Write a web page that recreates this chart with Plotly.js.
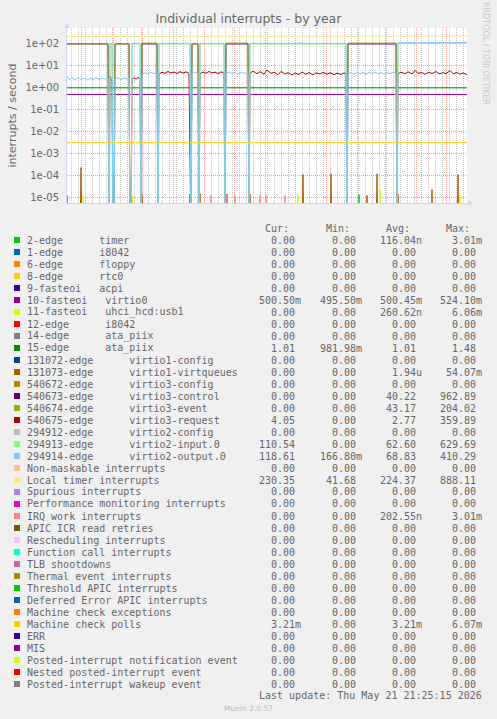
<!DOCTYPE html>
<html><head><meta charset="utf-8">
<script src="https://cdn.plot.ly/plotly-3.0.1.min.js"></script>
<style>html,body{margin:0;padding:0;background:#F0F0F0;}#chart{width:497px;height:719px;}</style>
</head><body><div id="chart"></div>
<script>
// ---------------- DATA ----------------
const xRange = ['2025-04-17', '2026-05-22'];
const xLabelDates = ['2025-07-16', '2025-10-16', '2026-01-15', '2026-04-16'];
const xLabelText = ['July 2025', 'October 2025', 'January 2026', 'April 2026'];
const yTickVals = [1e-5, 1e-4, 1e-3, 1e-2, 1e-1, 1, 10, 100];
const yTickText = ['1e-05', '1e-04', '1e-03', '1e-02', '1e-01', '1e+00', '1e+01', '1e+02'];

// 2-edge timer (spikes)
const timerPts = [['2025-04-16',0],['2025-04-17',1.3e-5],['2025-04-18',0],
  ['2025-05-28',0],['2025-05-29',1.3e-5],['2025-05-30',0],
  ['2026-02-02',0],['2026-02-03',1.4e-5],['2026-02-04',0]];
// 10-fasteoi virtio0
const virtio0Pts = [['2025-04-17',0.5005],['2026-05-22',0.5005]];
// 11-fasteoi uhci_hcd:usb1 (spikes)
const usb1Pts = [['2025-05-02',0],['2025-05-03',1.2e-5],['2025-05-04',0],
  ['2025-06-20',0],['2025-06-21',1.3e-5],['2025-06-22',0],
  ['2025-12-03',0],['2025-12-04',1.4e-5],['2025-12-05',0],
  ['2026-02-23',0],['2026-02-24',2.4e-5],['2026-02-25',0],
  ['2026-05-14',0],['2026-05-15',1.3e-5],['2026-05-16',0]];
// 15-edge ata_piix
const ata15Pts = [['2025-04-17',1.01],['2026-05-22',1.01]];
// 131073-edge virtio1-virtqueues (spikes)
const vq1Pts = [['2025-04-30',0],['2025-05-01',2.4e-4],['2025-05-02',0],
  ['2025-05-28',0],['2025-05-29',1.5e-5],['2025-05-30',0],
  ['2025-06-30',0],['2025-07-01',1.5e-5],['2025-07-02',0],
  ['2025-07-16',0],['2025-07-17',1.6e-5],['2025-07-18',0],
  ['2025-08-17',0],['2025-08-18',1.5e-5],['2025-08-19',0],
  ['2025-08-27',0],['2025-08-28',1.6e-5],['2025-08-29',0],
  ['2025-09-23',0],['2025-09-24',1.5e-5],['2025-09-25',0],
  ['2025-10-16',0],['2025-10-17',1.5e-5],['2025-10-18',0],
  ['2025-12-08',0],['2025-12-09',1.15e-4],['2025-12-10',0],
  ['2026-01-05',0],['2026-01-06',1.25e-4],['2026-01-07',0],
  ['2026-02-10',0],['2026-02-11',1.3e-5],['2026-02-12',0],
  ['2026-02-20',0],['2026-02-21',1.25e-4],['2026-02-22',0],
  ['2026-03-13',0],['2026-03-14',1.5e-5],['2026-03-15',0],
  ['2026-04-16',0],['2026-04-17',2.4e-5],['2026-04-18',0],
  ['2026-05-12',0],['2026-05-13',1.15e-4],['2026-05-14',0]];
// 540673-edge virtio3-control
const ctrlPts = [['2025-04-17',100],['2025-05-28',100],['2025-05-29',0],['2025-06-03',0],
  ['2025-06-04',100],['2025-06-18',100],['2025-06-19',0],['2025-06-30',0],
  ['2025-07-01',100],['2025-07-16',100],['2025-07-17',0],['2025-08-19',0],
  ['2025-08-20',100],['2025-08-26',100],['2025-08-27',0],['2025-09-22',0],
  ['2025-09-23',100],['2025-10-15',100],['2025-10-16',0],['2026-01-22',0],
  ['2026-01-23',100],['2026-03-12',100],['2026-03-13',0],['2026-05-22',0]];
// 540674-edge virtio3-event
const eventPts = [['2025-04-17',101],['2025-05-28',101],['2025-05-29',0],['2025-06-03',0],
  ['2025-06-04',101],['2025-06-18',101],['2025-06-19',0],['2025-06-30',0],
  ['2025-07-01',110],['2025-07-16',110],['2025-07-17',0],['2025-08-19',0],
  ['2025-08-20',101],['2025-08-26',101],['2025-08-27',0],['2025-09-22',0],
  ['2025-09-23',110],['2025-10-15',110],['2025-10-16',0],['2026-01-22',0],
  ['2026-01-23',110],['2026-03-12',110],['2026-03-13',0],['2026-05-22',0]];
// 540675-edge virtio3-request
const reqPts = [['2025-04-17',0],['2025-05-29',0],['2025-05-30',3.4],['2025-06-01',2.0],['2025-06-02',0],
  ['2025-06-20',0],['2025-06-21',2.4],['2025-06-23',2.9],['2025-06-25',2.5],['2025-06-27',3.0],['2025-06-29',2.6],['2025-06-30',0],
  ['2025-07-17',0],['2025-07-18',4.2],['2025-07-21',5.2],['2025-07-24',4.6],['2025-07-27',5.6],['2025-07-30',4.8],['2025-08-02',5.3],
  ['2025-08-05',4.5],['2025-08-08',5.5],['2025-08-11',4.7],['2025-08-14',5.4],['2025-08-17',4.6],['2025-08-19',0],
  ['2025-08-27',0],['2025-08-28',4.4],['2025-08-31',5.3],['2025-09-03',4.6],['2025-09-06',5.6],['2025-09-09',4.8],['2025-09-12',5.2],
  ['2025-09-15',4.5],['2025-09-18',5.4],['2025-09-21',4.8],['2025-09-22',0],
  ['2025-10-16',0],['2025-10-17',4.5],['2025-10-20',5.8],['2025-10-24',4.4],['2025-10-27',5.5],['2025-10-31',4.2],['2025-11-03',6.5],
  ['2025-11-07',4.6],['2025-11-10',5.2],['2025-11-14',4.0],['2025-11-17',5.6],['2025-11-21',4.3],['2025-11-24',5.0],['2025-11-28',3.9],
  ['2025-12-01',4.8],['2025-12-05',4.1],['2025-12-08',5.3],['2025-12-12',4.2],['2025-12-15',5.0],['2025-12-19',4.0],['2025-12-22',4.8],
  ['2025-12-26',4.3],['2025-12-29',5.1],['2026-01-02',4.2],['2026-01-05',4.9],['2026-01-09',4.0],['2026-01-12',4.7],['2026-01-16',4.1],
  ['2026-01-19',4.8],['2026-01-21',4.3],['2026-01-22',0],
  ['2026-03-13',0],['2026-03-14',4.5],['2026-03-17',5.2],['2026-03-21',4.4],['2026-03-24',5.4],['2026-03-28',4.3],['2026-03-31',6.3],
  ['2026-04-03',4.6],['2026-04-07',5.0],['2026-04-10',4.2],['2026-04-14',5.2],['2026-04-17',4.5],['2026-04-21',5.6],['2026-04-24',4.3],
  ['2026-04-28',5.0],['2026-05-01',4.4],['2026-05-05',6.2],['2026-05-08',4.5],['2026-05-12',5.0],['2026-05-15',4.2],['2026-05-18',4.8],
  ['2026-05-22',4.05]];
// 294913-edge virtio2-input.0
const inputPts = [['2025-04-17',0],['2025-05-29',0],['2025-05-30',100],['2025-06-01',99],['2025-06-02',0],
  ['2025-06-20',0],['2025-06-21',100],['2025-06-29',100],['2025-06-30',0],['2025-07-17',0],
  ['2025-07-18',100],['2025-08-18',100],['2025-08-19',0],['2025-08-27',0],['2025-08-28',100],
  ['2025-09-21',100],['2025-09-22',0],['2025-10-16',0],['2025-10-17',100],['2026-01-21',100],
  ['2026-01-22',0],['2026-03-13',0],['2026-03-14',106],['2026-04-01',108],['2026-04-20',107],
  ['2026-05-10',109],['2026-05-19',118],['2026-05-22',110.5]];
// 294914-edge virtio2-output.0
const outputPts = [['2025-04-17',3.6],['2025-04-19',2.4],['2025-04-22',2.8],['2025-04-25',2.3],['2025-04-28',2.9],
  ['2025-05-01',2.4],['2025-05-04',2.8],['2025-05-07',2.3],['2025-05-10',2.7],['2025-05-13',2.4],['2025-05-16',2.9],
  ['2025-05-19',2.4],['2025-05-22',2.8],['2025-05-25',2.5],['2025-05-28',2.8],['2025-05-29',0],
  ['2025-05-30',105],['2025-06-01',104],['2025-06-02',0],['2025-06-03',0],
  ['2025-06-04',2.6],['2025-06-07',2.9],['2025-06-10',2.4],['2025-06-13',2.8],['2025-06-16',2.5],['2025-06-18',2.9],
  ['2025-06-19',0],['2025-06-20',0],['2025-06-21',106],['2025-06-29',106],['2025-06-30',0],
  ['2025-07-01',4.3],['2025-07-04',4.9],['2025-07-07',4.3],['2025-07-10',5.1],['2025-07-13',4.4],['2025-07-16',4.9],
  ['2025-07-17',0],['2025-07-18',106],['2025-08-18',106],['2025-08-19',0],
  ['2025-08-20',4.6],['2025-08-23',5.2],['2025-08-26',4.5],['2025-08-27',0],
  ['2025-08-28',106],['2025-09-21',106],['2025-09-22',0],
  ['2025-09-23',4.6],['2025-09-26',5.3],['2025-09-29',4.5],['2025-10-02',5.1],['2025-10-05',4.4],['2025-10-08',5.2],
  ['2025-10-11',4.6],['2025-10-15',5.0],['2025-10-16',0],
  ['2025-10-17',106],['2025-12-04',106],['2025-12-06',114],['2025-12-08',106],['2026-01-21',106],['2026-01-22',0],
  ['2026-01-23',4.2],['2026-01-26',5.0],['2026-01-29',4.2],['2026-02-01',5.3],['2026-02-04',4.4],['2026-02-07',5.1],
  ['2026-02-10',4.3],['2026-02-13',5.0],['2026-02-16',4.5],['2026-02-19',5.2],['2026-02-22',4.4],['2026-02-25',5.1],
  ['2026-02-28',4.3],['2026-03-03',5.0],['2026-03-06',4.4],['2026-03-09',5.2],['2026-03-12',4.6],['2026-03-13',0],
  ['2026-03-14',112],['2026-03-17',118],['2026-03-20',112],['2026-03-24',119],['2026-03-27',113],['2026-03-31',118],
  ['2026-04-03',112],['2026-04-07',117],['2026-04-10',112],['2026-04-14',118],['2026-04-17',113],['2026-04-21',119],
  ['2026-04-24',112],['2026-04-28',118],['2026-05-01',113],['2026-05-05',117],['2026-05-08',112],['2026-05-12',118],
  ['2026-05-15',113],['2026-05-19',117],['2026-05-22',118.6]];
// Local timer interrupts
const locPts = [['2025-04-17',220],['2025-06-01',222],['2025-08-01',226],['2025-10-01',224],
  ['2025-12-01',223],['2026-02-01',225],['2026-04-01',227],['2026-05-22',230.35]];
// IRQ work interrupts (spikes)
const irqWorkPts = [['2025-09-07',0],['2025-09-08',1.3e-5],['2025-09-09',0],
  ['2025-09-23',0],['2025-09-24',1.3e-5],['2025-09-25',0],
  ['2025-10-01',0],['2025-10-02',1.3e-5],['2025-10-03',0],
  ['2025-10-26',0],['2025-10-27',1.3e-5],['2025-10-28',0],
  ['2025-11-01',0],['2025-11-02',1.3e-5],['2025-11-03',0],
  ['2025-11-20',0],['2025-11-21',1.3e-5],['2025-11-22',0]];
// Machine check polls
const mcPollPts = [['2025-04-17',0.00321],['2026-05-22',0.00321]];

// Legend table
const legLabels = ['2-edge      timer','1-edge      i8042','6-edge      floppy','8-edge      rtc0','9-fasteoi   acpi',
  '10-fasteoi   virtio0','11-fasteoi   uhci_hcd:usb1','12-edge      i8042','14-edge      ata_piix','15-edge      ata_piix',
  '131072-edge      virtio1-config','131073-edge      virtio1-virtqueues','540672-edge      virtio3-config',
  '540673-edge      virtio3-control','540674-edge      virtio3-event','540675-edge      virtio3-request',
  '294912-edge      virtio2-config','294913-edge      virtio2-input.0','294914-edge      virtio2-output.0',
  'Non-maskable interrupts','Local timer interrupts','Spurious interrupts','Performance monitoring interrupts',
  'IRQ work interrupts','APIC ICR read retries','Rescheduling interrupts','Function call interrupts','TLB shootdowns',
  'Thermal event interrupts','Threshold APIC interrupts','Deferred Error APIC interrupts','Machine check exceptions',
  'Machine check polls','ERR','MIS','Posted-interrupt notification event','Nested posted-interrupt event',
  'Posted-interrupt wakeup event'];
const legColors = ['#00CC00','#0066B3','#FF8000','#FFCC00','#330099','#990099','#CCFF00','#FF0000','#808080','#008F00',
  '#00487D','#B35A00','#B38F00','#6B006B','#8FB300','#B30000','#BEBEBE','#80FF80','#80C9FF','#FFC080','#FFE680',
  '#AA80FF','#EE00CC','#FF8080','#666600','#FFBFFF','#00FFCC','#CC6699','#999900','#00CC00','#0066B3','#FF8000',
  '#FFCC00','#330099','#990099','#CCFF00','#FF0000','#808080'];
const Z = '0.00';
const legCur = [Z,Z,Z,Z,Z,'500.50m',Z,Z,Z,'1.01',Z,Z,Z,Z,Z,'4.05',Z,'110.54','118.61',Z,'230.35',Z,Z,Z,Z,Z,Z,Z,Z,Z,Z,Z,'3.21m',Z,Z,Z,Z,Z];
const legMin = [Z,Z,Z,Z,Z,'495.50m',Z,Z,Z,'981.98m',Z,Z,Z,Z,Z,Z,Z,Z,'166.80m',Z,'41.68',Z,Z,Z,Z,Z,Z,Z,Z,Z,Z,Z,Z,Z,Z,Z,Z,Z];
const legAvg = ['116.04n',Z,Z,Z,Z,'500.45m','260.62n',Z,Z,'1.01',Z,'1.94u',Z,'40.22','43.17','2.77',Z,'62.60','68.83',Z,'224.37',Z,Z,'202.55n',Z,Z,Z,Z,Z,Z,Z,Z,'3.21m',Z,Z,Z,Z,Z];
const legMax = ['3.01m',Z,Z,Z,Z,'524.10m','6.06m',Z,Z,'1.48',Z,'54.07m',Z,'962.89','204.02','359.89',Z,'629.69','410.29',Z,'888.11',Z,Z,'3.01m',Z,Z,Z,Z,Z,Z,Z,Z,'6.07m',Z,Z,Z,Z,Z];
const legHeaders = ['Cur:','Min:','Avg:','Max:'];

// ---------------- RENDERING ----------------
const W = 497, H = 719, ML = 67, MR = 30, MT = 28, MB = 516;
const PW = W - ML - MR, PH = H - MT - MB;
const px2x = p => (p - ML) / PW;
const py2y = p => (H - MB - p) / PH;
const FLOOR = 1e-7; // zero drawn below the log axis, like rrdtool
const FONT_COL = '#666666';
const MONO = 'DejaVu Sans Mono';
const SANS = 'DejaVu Sans';

function tr(pts, idx) {
  return {type: 'scatter', mode: 'lines', x: pts.map(p => p[0]),
    y: pts.map(p => p[1] > 0 ? p[1] : FLOOR),
    line: {color: legColors[idx], width: 1}, hoverinfo: 'skip', showlegend: false, xaxis: 'x', yaxis: 'y'};
}
const data = [
  tr(timerPts, 0), tr(virtio0Pts, 5), tr(usb1Pts, 6), tr(ata15Pts, 9), tr(vq1Pts, 11),
  tr(ctrlPts, 13), tr(eventPts, 14), tr(reqPts, 15), tr(inputPts, 17), tr(outputPts, 18),
  tr(locPts, 20), tr(irqWorkPts, 23), tr(mcPollPts, 32)
];

const yMinor = [];
for (let k = -6; k <= 2; k++) for (let m = 2; m <= 9; m++) yMinor.push(m * Math.pow(10, k));
const yR = [-5.236, 2.726];
const MAJ = 'rgba(225,90,90,0.55)', MIN = 'rgba(150,150,150,0.55)';

const ann = [];
const shapes = [];
const A = (o) => ann.push(Object.assign({xref: 'paper', yref: 'paper', showarrow: false, borderpad: 0,
  yanchor: 'middle', font: {family: MONO, size: 10, color: FONT_COL}}, o));

const colRight = [301.7, 362.7, 422.7, 482.7];
const CW = 6.03;
legHeaders.forEach((h, j) => A({x: px2x(colRight[j] - 2 * CW), y: py2y(228), xanchor: 'right', text: h}));
const cols = [legCur, legMin, legAvg, legMax];
legLabels.forEach((lab, i) => {
  const py = 240 + 12 * i;
  A({x: px2x(26), y: py2y(py), xanchor: 'left', text: lab.replace(/ /g, '\u00A0')});
  cols.forEach((arr, j) => {
    const s = arr[i];
    const suf = /[a-z]$/i.test(s);
    A({x: px2x(colRight[j] - (suf ? 0 : CW)), y: py2y(py), xanchor: 'right', text: s});
  });
  shapes.push({type: 'rect', xref: 'paper', yref: 'paper', x0: px2x(14), x1: px2x(20),
    y0: py2y(py + 3), y1: py2y(py - 3), fillcolor: legColors[i], line: {width: 0}});
});
A({x: px2x(482.7), y: py2y(695), xanchor: 'right', text: 'Last\u00A0update:\u00A0Thu\u00A0May\u00A021\u00A021:25:15\u00A02026'});
A({x: px2x(248), y: py2y(708), xanchor: 'center', text: 'Munin 2.0.57', font: {family: SANS, size: 7.5, color: '#BBBBBB'}});
A({x: px2x(12), y: py2y(115.5), xanchor: 'center', text: 'interrupts / second', textangle: -90,
  font: {family: SANS, size: 11, color: FONT_COL}});
A({x: px2x(486), y: py2y(53), xanchor: 'center', text: 'RRDTOOL / TOBI OETIKER', textangle: 90,
  font: {family: SANS, size: 8, color: '#C8C8C8'}});
A({x: px2x(67), y: py2y(25), xanchor: 'center', text: '\u25B2', font: {family: SANS, size: 7, color: '#CFD6F8'}});
A({x: px2x(471), y: py2y(203), xanchor: 'center', text: '\u25B6', font: {family: SANS, size: 7, color: '#CFD6F8'}});

const layout = {
  width: W, height: H,
  margin: {l: ML, r: MR, t: MT, b: MB, pad: 0},
  paper_bgcolor: '#F0F0F0', plot_bgcolor: '#FFFFFF',
  showlegend: false,
  title: {text: 'Individual interrupts - by year', x: 0.5, xref: 'container', xanchor: 'center',
    y: 1 - 19 / H, yref: 'container', yanchor: 'middle', font: {family: SANS, size: 12.5, color: FONT_COL}},
  xaxis: {type: 'date', range: xRange, showticklabels: false, ticks: '', dtick: 'M1', tick0: '2025-05-01',
    showgrid: true, gridcolor: MAJ, gridwidth: 1, griddash: '1px,1px', zeroline: false,
    showline: true, linecolor: '#CFD6F8', linewidth: 1,
    minor: {dtick: 7 * 86400000, tick0: '2025-04-21', showgrid: true, gridcolor: MIN, griddash: '1px,1px', ticks: ''}},
  xaxis2: {type: 'date', range: xRange, overlaying: 'x', anchor: 'y', side: 'bottom', showgrid: false, zeroline: false,
    tickmode: 'array', tickvals: xLabelDates, ticktext: xLabelText, ticks: '', ticklabelstandoff: 2,
    tickfont: {family: SANS, size: 10, color: FONT_COL}},
  yaxis: {type: 'log', range: yR, tickmode: 'array', tickvals: yTickVals, ticktext: yTickText, ticks: '',
    showgrid: true, gridcolor: MAJ, gridwidth: 1, griddash: '1px,1px', zeroline: false,
    showline: true, linecolor: '#CFD6F8', linewidth: 1, ticklabelstandoff: 5,
    tickfont: {family: SANS, size: 10, color: FONT_COL}},
  yaxis2: {type: 'log', range: yR, overlaying: 'y', anchor: 'x', side: 'left', tickmode: 'array', tickvals: yMinor,
    showticklabels: false, ticks: '', showgrid: true, gridcolor: MIN, griddash: '1px,1px', zeroline: false, showline: false},
  annotations: ann,
  shapes: shapes
};
Plotly.newPlot('chart', data, layout, {staticPlot: true, displayModeBar: false});
</script></body></html>
